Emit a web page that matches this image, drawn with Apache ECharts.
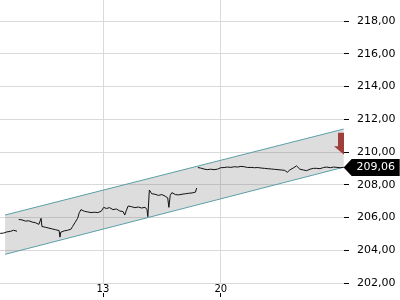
<!DOCTYPE html>
<html>
<head>
<meta charset="utf-8">
<script src="https://cdn.jsdelivr.net/npm/echarts@6/dist/echarts.min.js"></script>
<style>
html,body{margin:0;padding:0;background:#fff;}
#chart{width:400px;height:300px;}
</style>
</head>
<body>
<div id="chart"></div>
<script>
// price path: [day, value], null = session gap
var prices = [
    [6.9,205.03],[7.1,205.05],[7.3,205.12],[7.5,205.15],[7.7,205.22],[7.9,205.16],null,
    [8.0,205.88],[8.2,205.85],[8.4,205.78],[8.6,205.80],[8.8,205.72],[9.0,205.68],[9.2,205.58],
    [9.3,205.50],[9.33,205.95],[9.38,205.45],[9.6,205.40],[9.8,205.35],[10.0,205.30],[10.2,205.25],
    [10.4,205.20],[10.45,204.80],[10.5,205.10],[10.7,205.18],[10.9,205.22],[11.1,205.28],[11.2,205.45],
    [11.35,205.70],[11.5,205.95],[11.6,206.30],[11.7,206.48],[11.9,206.38],[12.1,206.34],[12.3,206.30],
    [12.5,206.32],[12.7,206.30],[12.9,206.38],[13.05,206.62],[13.2,206.55],[13.4,206.60],[13.6,206.48],
    [13.8,206.52],[14.0,206.40],[14.2,206.36],[14.3,206.15],[14.4,206.45],[14.5,206.70],[14.7,206.66],
    [14.9,206.60],[15.1,206.64],[15.3,206.58],[15.5,206.62],[15.62,206.50],[15.67,206.05],[15.76,207.68],
    [15.9,207.45],[16.1,207.42],[16.3,207.35],[16.5,207.40],[16.7,207.30],[16.85,207.20],[16.92,206.62],
    [17.0,207.35],[17.1,207.52],[17.3,207.40],[17.5,207.38],[17.7,207.42],[17.9,207.45],[18.1,207.48],
    [18.3,207.50],[18.5,207.55],[18.57,207.80],null,
    [18.64,209.05],[18.8,209.02],[19.0,208.96],[19.2,208.92],[19.4,208.95],[19.6,208.92],[19.8,208.95],
    [20.0,209.04],[20.2,209.05],[20.4,209.08],[20.6,209.06],[20.8,209.10],[21.0,209.08],[21.2,209.12],
    [21.3,209.20],[21.4,209.10],[21.6,209.05],[21.8,209.06],[22.0,209.04],[22.2,209.05],[22.4,209.02],
    [22.6,209.00],[22.8,208.98],[23.0,208.96],[23.2,208.94],[23.4,208.92],[23.6,208.90],[23.8,208.88],
    [23.95,208.76],[24.1,208.90],[24.3,209.02],[24.5,209.15],[24.7,208.95],[24.9,208.90],[25.1,208.86],
    [25.3,208.95],[25.5,209.00],[25.7,209.00],[25.9,208.98],[26.1,209.05],[26.3,209.08],[26.5,209.04],
    [26.7,209.08],[26.9,209.06],[27.1,209.04],[27.3,209.06]
];
// trend channel end points
var channelLower = [[7.19,203.75],[27.3,209.07]];
var channelUpper = [[7.19,206.15],[27.3,211.40]];
var xTicks = [13, 20];
var yTicks = [202,204,206,208,210,212,214,216,218];
var signalValue = 210.5;   // red down arrow

var xMin = 6.89, xMax = 27.32;
var last = prices[prices.length - 1];
function fmt(v) { return v.toFixed(2).replace('.', ','); }

var font = 'DejaVu Sans';
var myChart = echarts.init(document.getElementById('chart'));
var option = {
    animation: false,
    grid: {left: 0, right: 56, top: 0, bottom: 17},
    xAxis: [{
        type: 'value', min: xMin, max: xMax, position: 'bottom',
        axisLine: {show: false},
        axisTick: {show: false, customValues: xTicks},
        axisLabel: {customValues: xTicks, margin: 1, fontSize: 10, fontFamily: font, color: '#000'},
        splitLine: {show: true, lineStyle: {color: '#d9d9d9', width: 1}}
    }, {
        type: 'value', min: xMin, max: xMax, position: 'bottom', offset: 10,
        axisLine: {show: false},
        axisTick: {show: true, length: 4, customValues: xTicks, lineStyle: {color: '#000'}},
        axisLabel: {show: false},
        splitLine: {show: false}
    }],
    yAxis: {
        type: 'value', position: 'right', min: 202, max: 219.28,
        axisLine: {show: false},
        axisTick: {show: true, length: 5, customValues: yTicks, lineStyle: {color: '#000'}},
        axisLabel: {customValues: yTicks, margin: 13, fontSize: 11, fontFamily: font, color: '#000', formatter: fmt},
        splitLine: {show: true, lineStyle: {color: '#d9d9d9', width: 1}}
    },
    series: [{
        // channel fill
        type: 'custom',
        data: [0],
        silent: true,
        renderItem: function (params, api) {
            var pts = [
                api.coord(channelLower[0]), api.coord(channelLower[1]),
                api.coord(channelUpper[1]), api.coord(channelUpper[0])
            ];
            return {type: 'polygon', shape: {points: pts}, style: {fill: 'rgba(120,120,120,0.25)'}};
        }
    }, {
        type: 'line', data: channelLower, symbol: 'none',
        lineStyle: {color: '#5a9fa8', width: 1}
    }, {
        type: 'line', data: channelUpper, symbol: 'none',
        lineStyle: {color: '#5a9fa8', width: 1}
    }, {
        type: 'line', data: prices, symbol: 'none', connectNulls: false,
        lineStyle: {color: '#111', width: 1},
        markPoint: {
            silent: true,
            data: [{
                coord: [last[0], last[1]],
                symbol: 'path://M0,8.5L8,0L56,0L56,17L8,17Z',
                symbolSize: [56, 17], symbolOffset: [28, 0],
                itemStyle: {color: '#000'},
                label: {show: true, formatter: fmt(last[1]), color: '#fff', fontSize: 11, fontFamily: font, offset: [4, 0]}
            }, {
                coord: [xMax, signalValue],
                symbol: 'path://M4,0L10,0L10,22L0,13.5L4,13.5Z',
                symbolSize: [10, 22], symbolOffset: [-5, 0],
                itemStyle: {color: '#a03f3a'},
                label: {show: false}
            }]
        }
    }]
};
option && myChart.setOption(option);
</script>
</body>
</html>
